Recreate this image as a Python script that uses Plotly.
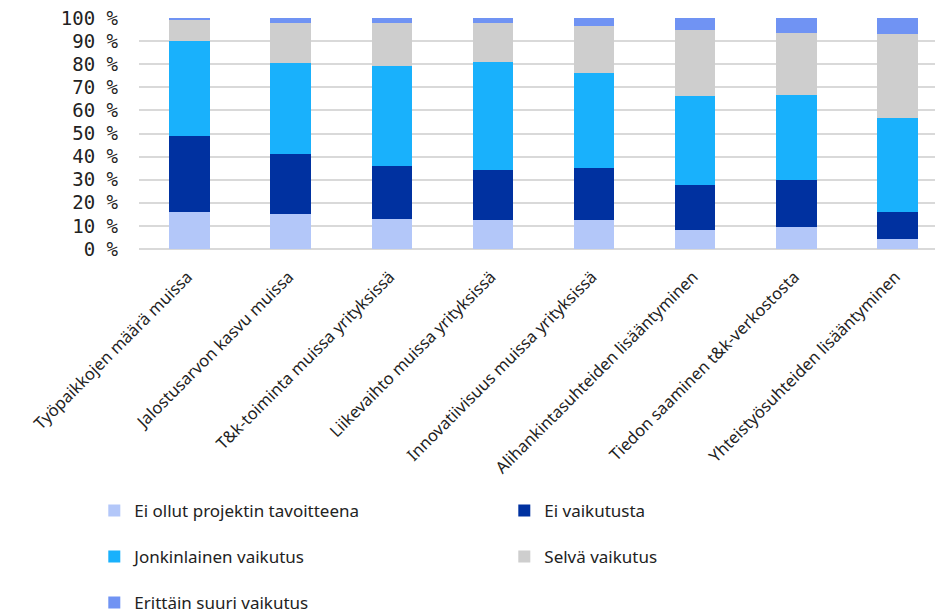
import plotly.graph_objects as go

categories = [
    "Työpaikkojen määrä muissa",
    "Jalostusarvon kasvu muissa",
    "T&k-toiminta muissa yrityksissä",
    "Liikevaihto muissa yrityksissä",
    "Innovatiivisuus muissa yrityksissä",
    "Alihankintasuhteiden lisääntyminen",
    "Tiedon saaminen t&k-verkostosta",
    "Yhteistyösuhteiden lisääntyminen",
]

ei_tavoitteena = [16.1, 15.0, 13.0, 12.6, 12.6, 8.4, 9.5, 4.2]
ei_vaikutusta = [32.8, 26.1, 22.9, 21.5, 22.6, 19.4, 20.4, 11.8]
jonkinlainen = [41.3, 39.3, 43.5, 47.0, 40.9, 38.3, 36.9, 40.7]
selva = [9.2, 17.3, 18.6, 16.6, 20.4, 28.6, 26.8, 36.5]
erittain = [0.6, 2.3, 2.0, 2.3, 3.5, 5.3, 6.4, 6.8]

series = [
    ("Ei ollut projektin tavoitteena", ei_tavoitteena, "#b3c7f9", "legend"),
    ("Ei vaikutusta", ei_vaikutusta, "#0031a0", "legend"),
    ("Jonkinlainen vaikutus", jonkinlainen, "#19b1fc", "legend2"),
    ("Selvä vaikutus", selva, "#cecece", "legend2"),
    ("Erittäin suuri vaikutus", erittain, "#7093f3", "legend3"),
]

fig = go.Figure()
for name, vals, color, leg in series:
    fig.add_trace(go.Bar(
        x=categories, y=vals, name=name, width=0.4,
        marker=dict(color=color, line=dict(width=0)),
        legend=leg,
    ))

y_ticks = list(range(0, 101, 10))

# page body has an 8px margin, so the figure is made 8px smaller
legend_style = dict(
    orientation="h", xanchor="left", yanchor="middle", x=-0.0556,
    entrywidth=365, traceorder="normal",
    font=dict(family="Noto Sans", size=17, color="#222"),
    bgcolor="rgba(0,0,0,0)", itemwidth=30,
)

fig.update_layout(
    barmode="stack",
    width=935, height=608,
    margin=dict(l=131, r=0, t=10, b=367, autoexpand=False),
    plot_bgcolor="white", paper_bgcolor="white",
    legend=dict(**legend_style, y=-1.134),
    legend2=dict(**legend_style, y=-1.333),
    legend3=dict(**legend_style, y=-1.532),
)
fig.update_xaxes(
    range=[-0.5, 7.45], tickangle=-45, showgrid=False, automargin=False,
    tickfont=dict(family="Noto Sans", size=16.5, color="#222"),
    showline=False, ticklabelstandoff=14, ticklabelshift=-2,
)
fig.update_yaxes(
    range=[0, 100], tickvals=y_ticks, automargin=False,
    ticktext=[f"{v} %" for v in y_ticks], ticklabeloverflow="allow",
    showgrid=True, gridcolor="#d9d9d9", gridwidth=1.5,
    zeroline=True, zerolinecolor="#d9d9d9", zerolinewidth=1.5,
    tickfont=dict(family="DejaVu Sans Mono", size=19, color="#222"),
    ticklabelstandoff=20,
)

fig.write_html("out.html")
